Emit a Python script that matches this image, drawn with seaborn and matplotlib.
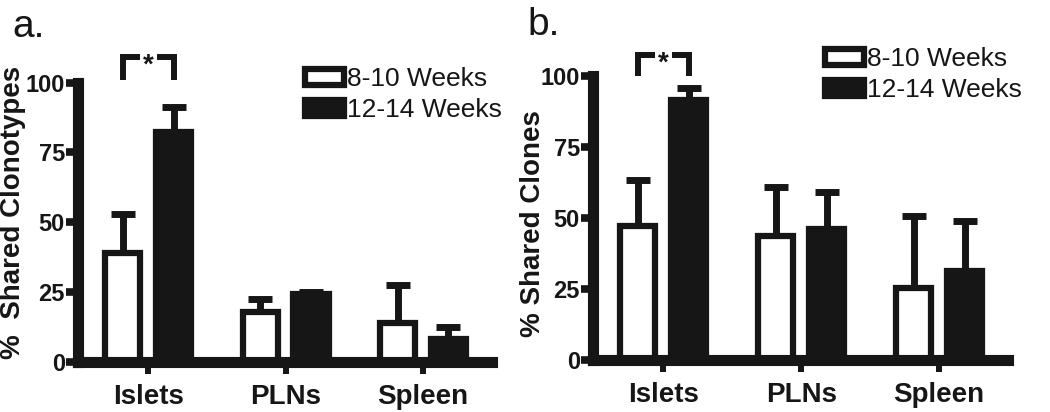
import numpy as np
import pandas as pd
import matplotlib
matplotlib.use("Agg")
import matplotlib.pyplot as plt
import seaborn as sns

# ---------------- data ----------------
categories = ["Islets", "PLNs", "Spleen"]
groups = ["8-10 Weeks", "12-14 Weeks"]

a_young = [39.0, 18.0, 13.8]
a_young_err = [14.0, 4.4, 13.7]
a_old = [82.2, 24.2, 8.4]
a_old_err = [9.1, 0.9, 4.2]

b_young = [47.3, 43.8, 25.4]
b_young_err = [16.0, 17.0, 25.4]
b_old = [91.5, 46.2, 31.3]
b_old_err = [4.2, 13.1, 17.6]

yticks = [0, 25, 50, 75, 100]
panel_letters = ["a.", "b."]
ylabels = ["%  Shared Clonotypes", "% Shared Clones"]

DARK = "#161616"

sns.set_theme(style="white")
plt.rcParams["font.family"] = ["Liberation Sans", "DejaVu Sans"]

W, H = 1050, 412
fig = plt.figure(figsize=(W / 100, H / 100), dpi=100)


def fx(x):
    return x / W


def fy(y):
    return 1 - y / H


ax_a = fig.add_axes([fx(78), fy(362), (491.75 - 78) / W, (362 - 82.5) / H])
ax_b = fig.add_axes([fx(593), fy(360), (1008 - 593) / W, (360 - 76) / H])


def draw_panel(ax, young, young_err, old, old_err, br_lo, br_hi, leg_anchor):
    df = pd.DataFrame({
        "Tissue": categories * 2,
        "Age": [groups[0]] * len(categories) + [groups[1]] * len(categories),
        "Value": young + old,
    })
    sns.barplot(data=df, x="Tissue", y="Value", hue="Age", order=categories,
                hue_order=groups, palette=["white", DARK], saturation=1,
                width=0.74, gap=0.31, edgecolor=DARK, linewidth=4.5,
                errorbar=None, legend=False, ax=ax)

    errs = [young_err, old_err]
    centers = []
    for cont, err in zip(ax.containers, errs):
        xs = [b.get_x() + b.get_width() / 2 for b in cont]
        tops = [b.get_height() for b in cont]
        centers.append(xs)
        ax.errorbar(xs, tops, yerr=[np.zeros(len(err)), err], fmt="none",
                    ecolor=DARK, elinewidth=5, capsize=8.6, capthick=5,
                    zorder=0.5)

    ax.set_xlim(-0.51, 2.5)
    ax.set_ylim(0, 100)
    ax.set_xlabel("")
    ax.set_ylabel("")
    for s in ["top", "right"]:
        ax.spines[s].set_visible(False)
    for s in ["left", "bottom"]:
        ax.spines[s].set_linewidth(8)
        ax.spines[s].set_color(DARK)
        ax.spines[s].set_capstyle("projecting")
    ax.set_yticks(yticks)
    ax.set_yticklabels([str(t) for t in yticks], fontweight="bold",
                       fontsize=17, color=DARK)
    ax.set_xticks(range(len(categories)))
    ax.set_xticklabels(categories, fontweight="bold", fontsize=20, color=DARK)
    ax.tick_params(axis="y", left=True, direction="out", length=9,
                   width=5.5, color=DARK, pad=0.5)
    ax.tick_params(axis="x", bottom=True, direction="out", length=8.5,
                   width=4.3, color=DARK, pad=7)
    ax.grid(False)

    # significance bracket over Islets
    x1, x2 = centers[0][0], centers[1][0]
    mid = (x1 + x2) / 2
    g = 0.062
    ax.plot([x1, x1, mid - g], [br_lo, br_hi, br_hi], color=DARK, lw=4.3,
            clip_on=False, solid_capstyle="butt", solid_joinstyle="miter")
    ax.plot([mid + g, x2, x2], [br_hi, br_hi, br_lo], color=DARK, lw=4.3,
            clip_on=False, solid_capstyle="butt", solid_joinstyle="miter")
    ax.annotate("*", xy=(mid, br_hi), xytext=(0, -11.5),
                textcoords="offset points", ha="center", va="baseline",
                fontsize=20, fontweight="bold", color=DARK,
                annotation_clip=False)

    handles = [ax.containers[0][0], ax.containers[1][0]]
    leg = ax.legend(handles, groups, loc="upper left",
                    bbox_to_anchor=leg_anchor, bbox_transform=fig.transFigure,
                    frameon=False, fontsize=19, handlelength=1.48,
                    handleheight=0.57, handletextpad=0.1, labelspacing=0.27,
                    borderpad=0, borderaxespad=0)
    for t in leg.get_texts():
        t.set_color(DARK)


draw_panel(ax_a, a_young, a_young_err, a_old, a_old_err, 100.9, 109.3,
           (fx(305), fy(67)))
draw_panel(ax_b, b_young, b_young_err, b_old, b_old_err, 100.0, 107.4,
           (fx(825), fy(47)))

fig.text(fx(13), fy(212), ylabels[0], rotation=90, ha="center", va="center",
         fontsize=20, fontweight="bold", color=DARK)
fig.text(fx(533), fy(224), ylabels[1], rotation=90, ha="center", va="center",
         fontsize=20, fontweight="bold", color=DARK)
fig.text(fx(12), fy(37), panel_letters[0], ha="left", va="baseline",
         fontsize=28, color=DARK)
fig.text(fx(527), fy(35), panel_letters[1], ha="left", va="baseline",
         fontsize=28, color=DARK)

fig.savefig("out.png", dpi=100)
